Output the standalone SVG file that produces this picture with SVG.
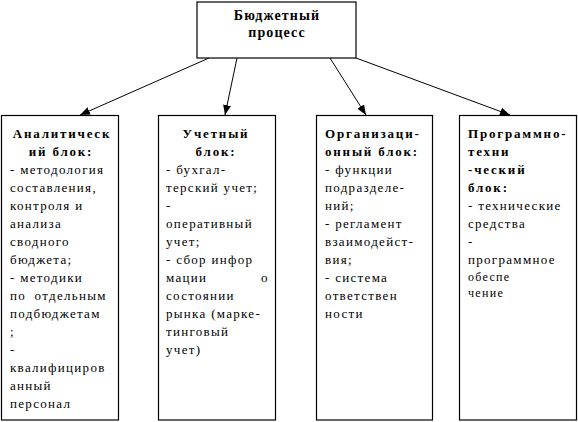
<svg xmlns="http://www.w3.org/2000/svg" width="578" height="422" viewBox="0 0 578 422">
<style>
rect.box{fill:#fff;stroke:#000;stroke-width:1.2}
text{font-family:"Liberation Serif","DejaVu Serif","Times New Roman",serif;font-size:13px;fill:#000;letter-spacing:1.3px}
text.b{font-weight:bold;letter-spacing:1.8px}
text.t{font-weight:bold;font-size:14px;letter-spacing:1.1px}
.c{text-anchor:middle}
line.arr{stroke:#000;stroke-width:1;marker-end:url(#ah)}
</style>
<defs>
<marker id="ah" markerWidth="10" markerHeight="8" refX="10" refY="4" orient="auto" markerUnits="userSpaceOnUse">
<path d="M0,0 L10,4 L0,8 z" fill="#000"/>
</marker>
</defs>
<rect width="578" height="422" fill="#fff"/>
<g id="connectors">
<line class="arr" x1="209" y1="58" x2="80" y2="115"/>
<line class="arr" x1="237" y1="58" x2="225" y2="115"/>
<line class="arr" x1="330" y1="58" x2="366" y2="115"/>
<line class="arr" x1="356" y1="58" x2="510" y2="115"/>
</g>
<g id="root">
<rect class="box" x="197" y="2" width="159" height="56"/>
<text class="t c" x="277" y="20">Бюджетный</text>
<text class="t c" x="277" y="37">процесс</text>
</g>
<g id="analytic">
<rect class="box" x="1.5" y="115.5" width="117" height="304.5"/>
<text class="b c" x="62" y="138">Аналитическ</text>
<text class="b c" x="61" y="156">ий блок:</text>
<text x="10" y="174">- методология</text>
<text x="10" y="192">составления,</text>
<text x="10" y="210">контроля и</text>
<text x="10" y="228">анализа</text>
<text x="10" y="246">сводного</text>
<text x="10" y="264">бюджета;</text>
<text x="10" y="282">- методики</text>
<text x="10" y="300" word-spacing="4">по отдельным</text>
<text x="10" y="318">подбюджетам</text>
<text x="10" y="336">;</text>
<text x="10" y="354">-</text>
<text x="10" y="372">квалифициров</text>
<text x="10" y="390">анный</text>
<text x="10" y="408">персонал</text>
</g>
<g id="uchet">
<rect class="box" x="158.5" y="115.5" width="117" height="304.5"/>
<text class="b c" x="216" y="138">Учетный</text>
<text class="b c" x="216" y="156">блок:</text>
<text x="166" y="174">- бухгал-</text>
<text x="166" y="192">терский учет;</text>
<text x="166" y="210">-</text>
<text x="166" y="228">оперативный</text>
<text x="166" y="246">учет;</text>
<text x="166" y="264">- сбор инфор</text>
<text x="166" y="282">мации</text>
<text x="261" y="282">о</text>
<text x="166" y="300">состоянии</text>
<text x="166" y="318">рынка (марке-</text>
<text x="166" y="336">тинговый</text>
<text x="166" y="354">учет)</text>
</g>
<g id="org">
<rect class="box" x="316.5" y="115.5" width="116" height="304.5"/>
<text class="b" x="325" y="138">Организаци-</text>
<text class="b" x="325" y="156">онный блок:</text>
<text x="325" y="174">- функции</text>
<text x="325" y="192">подразделе-</text>
<text x="325" y="210">ний;</text>
<text x="325" y="228">- регламент</text>
<text x="325" y="246">взаимодейст-</text>
<text x="325" y="264">вия;</text>
<text x="325" y="282">- система</text>
<text x="325" y="300">ответствен</text>
<text x="325" y="318">ности</text>
</g>
<g id="prog">
<rect class="box" x="459.5" y="115.5" width="117" height="304.5"/>
<text class="b" x="468" y="138">Программно-</text>
<text class="b" x="468" y="156">техни</text>
<text class="b" x="468" y="174">-ческий</text>
<text class="b" x="468" y="192">блок:</text>
<text x="468" y="210">- технические</text>
<text x="468" y="228">средства</text>
<text x="468" y="246">-</text>
<text x="468" y="264">программное</text>
<text x="468" y="281" style="font-size:12px">обеспе</text>
<text x="468" y="297" style="font-size:12px">чение</text>
</g>
</svg>
